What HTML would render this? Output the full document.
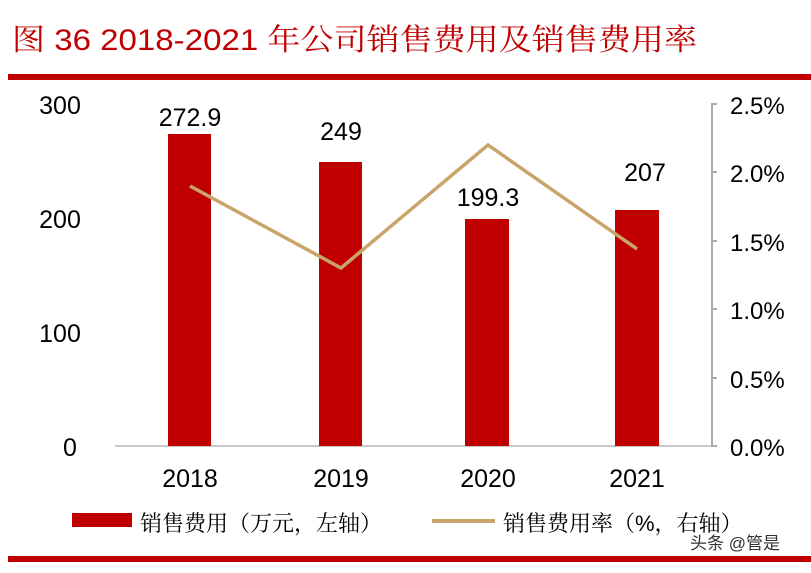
<!DOCTYPE html>
<html><head><meta charset="utf-8"><style>
body{margin:0;background:#fff;width:811px;height:568px;overflow:hidden}
svg text{font-family:"Liberation Sans Narrow","Liberation Sans","Noto Sans CJK SC",sans-serif}
</style></head><body>
<svg width="811" height="568" viewBox="0 0 811 568" xmlns="http://www.w3.org/2000/svg">
<text x="12" y="50" font-size="30" fill="#c00000" style="font-family:'Liberation Sans','Noto Serif CJK SC',serif" textLength="685" lengthAdjust="spacingAndGlyphs">图 36 2018-2021 年公司销售费用及销售费用率</text>
<rect x="8" y="74" width="803" height="6" fill="#c00000"/>
<rect x="8" y="556" width="803" height="6" fill="#c00000"/>
<g font-size="25" fill="#000" text-anchor="middle">
<text x="60" y="114">300</text><text x="60" y="228">200</text><text x="60" y="342">100</text><text x="70" y="456">0</text>
</g>
<g font-size="24" fill="#000" text-anchor="start">
<text x="730" y="114">2.5%</text><text x="730" y="182">2.0%</text><text x="730" y="251">1.5%</text><text x="730" y="319">1.0%</text><text x="730" y="388">0.5%</text><text x="730" y="456">0.0%</text>
</g>
<line x1="115" y1="446" x2="712" y2="446" stroke="#c8c8c8" stroke-width="2"/>
<path d="M717 104 H712 V446 H717 M712 172 h5 M712 241 h5 M712 309 h5 M712 378 h5" stroke="#aaa" stroke-width="2" fill="none"/>
<g fill="#c00000">
<rect x="168" y="134" width="43" height="312"/>
<rect x="319" y="162" width="43" height="284"/>
<rect x="465" y="219" width="44" height="227"/>
<rect x="615" y="210" width="44" height="236"/>
</g>
<polyline points="190,186 341,268 488,145 637,249" fill="none" stroke="#c9a56b" stroke-width="3.5"/>
<g font-size="25" fill="#000" text-anchor="middle">
<text x="190" y="126">272.9</text><text x="341" y="140">249</text><text x="488" y="206">199.3</text><text x="645" y="181">207</text>
<text x="190" y="487">2018</text><text x="341" y="487">2019</text><text x="488" y="487">2020</text><text x="637" y="487">2021</text>
</g>
<rect x="72" y="513" width="60" height="14" fill="#c00000"/>
<text x="140" y="531" font-size="22" style="font-family:'Liberation Sans','Noto Serif CJK SC',serif">销售费用（万元，左轴）</text>
<line x1="432" y1="521" x2="495" y2="521" stroke="#c9a56b" stroke-width="4"/>
<text x="503" y="531" font-size="22" style="font-family:'Liberation Sans','Noto Serif CJK SC',serif">销售费用率（%，右轴）</text>
<text x="690" y="549" font-size="17" fill="#333" style="font-family:'Liberation Sans','Noto Sans CJK SC',sans-serif">头条 @管是</text>
</svg>
</body></html>
